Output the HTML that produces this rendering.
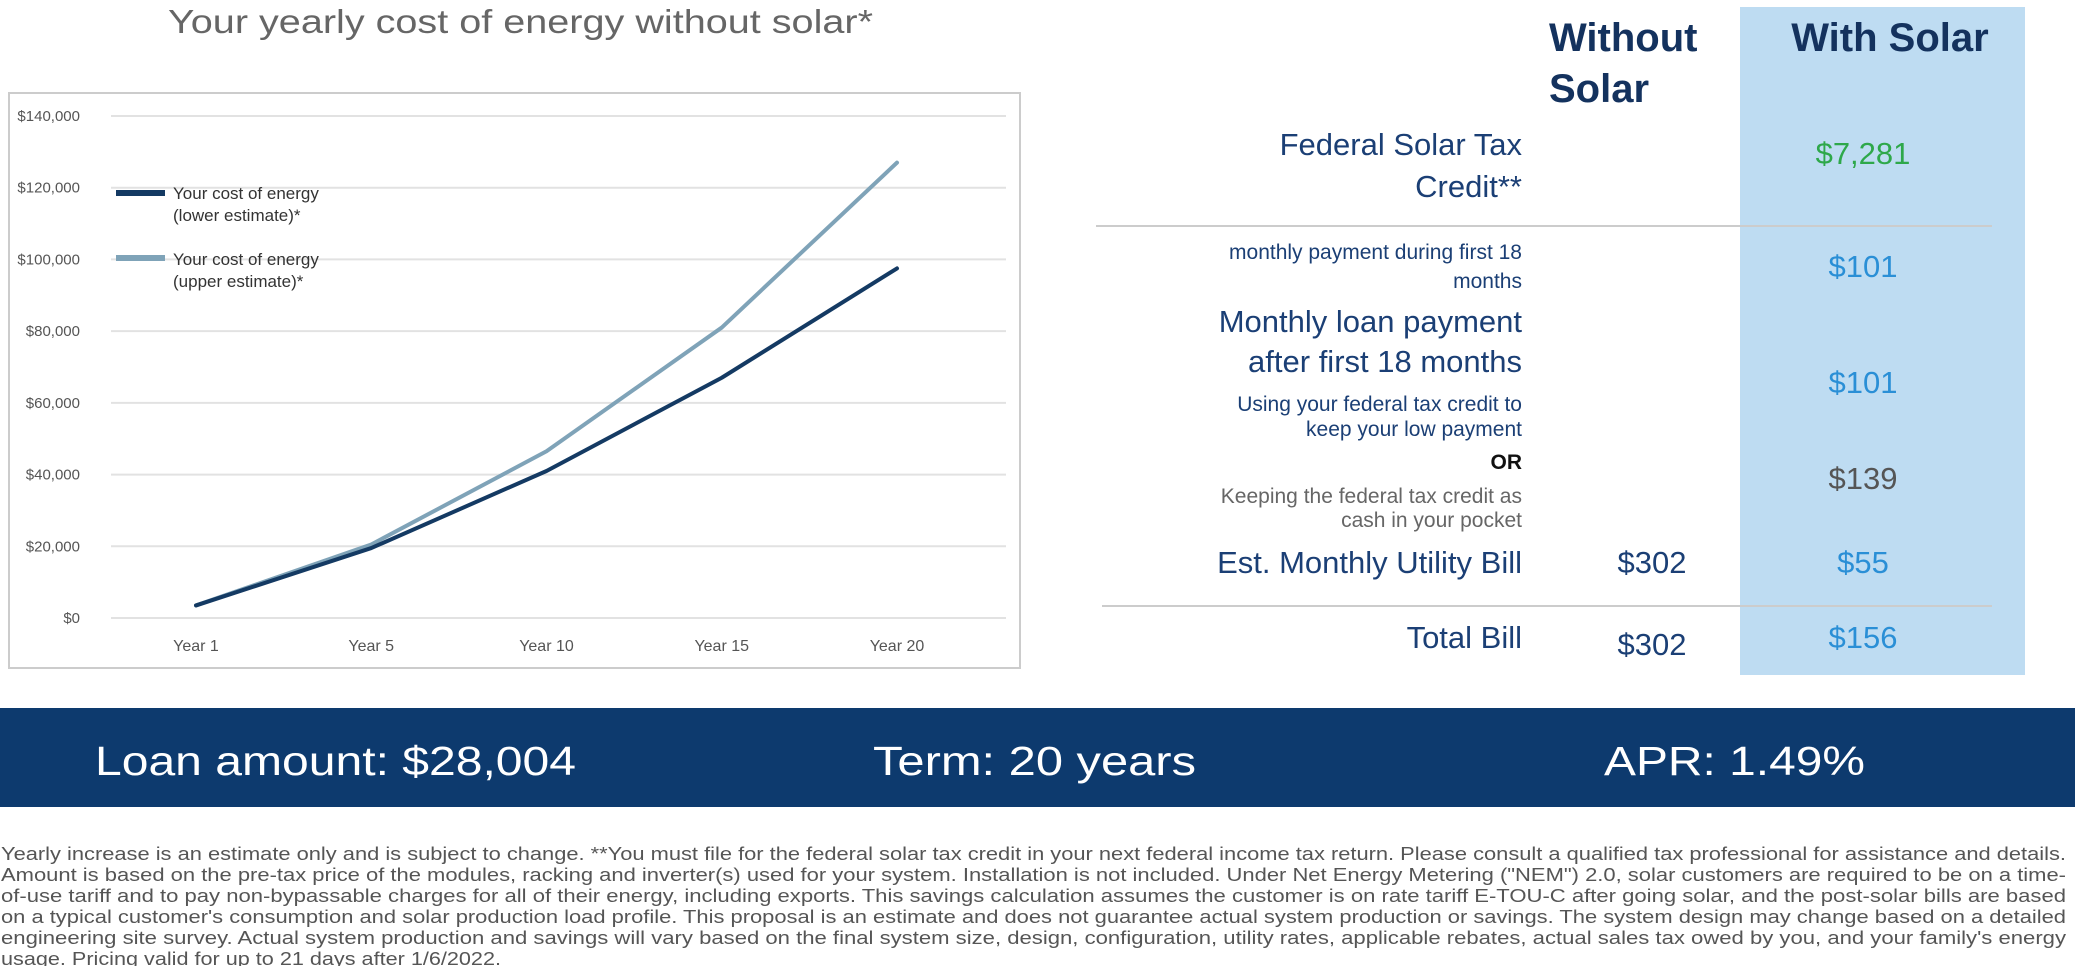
<!DOCTYPE html>
<html><head><meta charset="utf-8"><style>
html,body{margin:0;padding:0;background:#fff;width:2075px;height:966px;overflow:hidden;font-family:"Liberation Sans",Arial,sans-serif}
svg{position:absolute;left:0;top:0}
</style></head><body>
<svg id="s" width="2075" height="966" viewBox="0 0 2075 966" xmlns="http://www.w3.org/2000/svg" font-family="Liberation Sans, Arial, sans-serif">
<text x="168" y="33" font-size="33" fill="#666" textLength="705" lengthAdjust="spacingAndGlyphs">Your yearly cost of energy without solar*</text>
<rect x="9" y="93" width="1011" height="575" fill="#fff" stroke="#ccc" stroke-width="2"/>
<g id="grid"></g>
<g id="xl"></g>
<g id="yl"></g>
<g id="lines"></g>
<g>
<g>
<line x1="116" y1="193" x2="165" y2="193" stroke="#143a63" stroke-width="6"/>
<text x="173" y="199" font-size="17" fill="#333">Your cost of energy</text>
<text x="173" y="221" font-size="17" fill="#333">(lower estimate)*</text></g>
<g>
<line x1="116" y1="258" x2="165" y2="258" stroke="#7fa3b8" stroke-width="6"/>
<text x="173" y="265" font-size="17" fill="#333">Your cost of energy</text>
<text x="173" y="287" font-size="17" fill="#333">(upper estimate)*</text></g>
</g>

<rect x="1740" y="7" width="285" height="668" fill="#bedcf2"/>
<g font-weight="bold" font-size="40" fill="#14325e">
<text x="1549" y="51">Without</text>
<text x="1549" y="102">Solar</text>
<text x="1890" y="51" text-anchor="middle">With Solar</text>
</g>
<g text-anchor="end" fill="#1b3f75">
<text x="1522" y="155" font-size="31">Federal Solar Tax</text>
<text x="1522" y="197" font-size="31">Credit**</text>
<text x="1522" y="259" font-size="21">monthly payment during first 18</text>
<text x="1522" y="288" font-size="21">months</text>
<text x="1522" y="332" font-size="31">Monthly loan payment</text>
<text x="1522" y="372" font-size="31">after first 18 months</text>
<text x="1522" y="411" font-size="21">Using your federal tax credit to</text>
<text x="1522" y="436" font-size="21">keep your low payment</text>
<text x="1522" y="469" font-size="21" font-weight="bold" fill="#111">OR</text>
<text x="1522" y="503" font-size="21" fill="#666">Keeping the federal tax credit as</text>
<text x="1522" y="527" font-size="21" fill="#666">cash in your pocket</text>
<text x="1522" y="573" font-size="31">Est. Monthly Utility Bill</text>
<text x="1522" y="648" font-size="31">Total Bill</text>
</g>
<line x1="1096" y1="226" x2="1992" y2="226" stroke="#ccc" stroke-width="2"/>
<line x1="1102" y1="606" x2="1992" y2="606" stroke="#ccc" stroke-width="2"/>
<g text-anchor="middle" font-size="31">
<text x="1863" y="164" fill="#2ea84a">$7,281</text>
<text x="1863" y="277" fill="#2a8fd6">$101</text>
<text x="1863" y="393" fill="#2a8fd6">$101</text>
<text x="1863" y="489" fill="#555">$139</text>
<text x="1863" y="573" fill="#2a8fd6">$55</text>
<text x="1863" y="648" fill="#2a8fd6">$156</text>
<text x="1652" y="573" fill="#1b3f75">$302</text>
<text x="1652" y="655" fill="#1b3f75">$302</text>
</g>

<rect x="0" y="708" width="2075" height="99" fill="#0d3a6e"/>
<g font-size="41" fill="#fff">
<text x="95" y="775" textLength="481" lengthAdjust="spacingAndGlyphs">Loan amount: $28,004</text>
<text x="873" y="775" textLength="323" lengthAdjust="spacingAndGlyphs">Term: 20 years</text>
<text x="1604" y="775" textLength="261" lengthAdjust="spacingAndGlyphs">APR: 1.49%</text>
</g>
<g font-size="18" fill="#555">
<text x="1" y="860" textLength="2065" lengthAdjust="spacingAndGlyphs">Yearly increase is an estimate only and is subject to change. **You must file for the federal solar tax credit in your next federal income tax return. Please consult a qualified tax professional for assistance and details.</text>
<text x="1" y="881" textLength="2065" lengthAdjust="spacingAndGlyphs">Amount is based on the pre-tax price of the modules, racking and inverter(s) used for your system. Installation is not included. Under Net Energy Metering ("NEM") 2.0, solar customers are required to be on a time-</text>
<text x="1" y="902" textLength="2065" lengthAdjust="spacingAndGlyphs">of-use tariff and to pay non-bypassable charges for all of their energy, including exports. This savings calculation assumes the customer is on rate tariff E-TOU-C after going solar, and the post-solar bills are based</text>
<text x="1" y="923" textLength="2065" lengthAdjust="spacingAndGlyphs">on a typical customer's consumption and solar production load profile.  This proposal is an estimate and does not guarantee actual system production or savings. The system design may change based on a detailed</text>
<text x="1" y="944" textLength="2065" lengthAdjust="spacingAndGlyphs">engineering site survey. Actual system production and savings will vary based on the final system size, design, configuration, utility rates, applicable rebates, actual sales tax owed by you, and your family's energy</text>
<text x="1" y="965" textLength="500" lengthAdjust="spacingAndGlyphs">usage. Pricing valid for up to 21 days after 1/6/2022.</text>
</g>
</svg>
<script>
const categories=["Year 1","Year 5","Year 10","Year 15","Year 20"];
const lowerSeries=[3500,19500,41000,67000,97500];
const upperSeries=[3500,20500,46500,81000,127000];
const yTicks=[0,20000,40000,60000,80000,100000,120000,140000];
const yTickLabels=["$0","$20,000","$40,000","$60,000","$80,000","$100,000","$120,000","$140,000"];
const NS="http://www.w3.org/2000/svg";
const plotL=111,plotR=1006,plotT=116,plotB=618;
function y(v){return plotB-(v/140000)*(plotB-plotT);}
function x(i){return 196+i*(897-196)/(categories.length-1);}
function mk(t,a,p){const e=document.createElementNS(NS,t);for(const k in a)e.setAttribute(k,a[k]);p.appendChild(e);return e;}
const g=document.getElementById('grid'),yl=document.getElementById('yl'),xl=document.getElementById('xl'),ln=document.getElementById('lines');
yTicks.forEach((v,i)=>{
 const l=mk('line',{x1:plotL,x2:plotR,y1:y(v),y2:y(v),stroke:'#e2e2e2','stroke-width':2},g);
 
 
 const t=mk('text',{x:80,y:y(v)+5,'text-anchor':'end','font-size':15,fill:'#555'},yl);
 t.textContent=yTickLabels[i];
 
 
});
categories.forEach((c,i)=>{
 const t=mk('text',{x:x(i),y:651,'text-anchor':'middle','font-size':16,fill:'#555'},xl);
 t.textContent=c;
 
 
});
function drawLine(arr,color,name){
 const p=mk('polyline',{points:arr.map((v,i)=>x(i)+','+y(v)).join(' '),fill:'none',stroke:color,'stroke-width':4,'stroke-linejoin':'round','stroke-linecap':'round'},ln);
 
 
}
drawLine(upperSeries,'#7fa3b8','upper-estimate-line');
drawLine(lowerSeries,'#143a63','lower-estimate-line');
</script>
</body></html>
